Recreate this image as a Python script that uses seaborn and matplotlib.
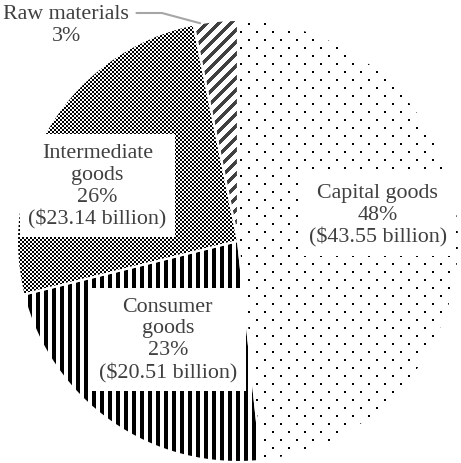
import numpy as np
import matplotlib
matplotlib.use("Agg")
import matplotlib.pyplot as plt
import seaborn as sns

sns.set_theme(style="white")
plt.rcParams["font.family"] = ["Liberation Serif", "DejaVu Serif"]

# Export values by category (billion dollars)
categories = ["Capital goods", "Consumer\ngoods", "Intermediate\ngoods", "Raw materials"]
values = [43.55, 20.51, 23.14, 2.90]
show_amount = [True, True, True, False]

# Label anchor positions in data units (pie radius = 1)
label_xy = [(0.632, 0.118), (-0.318, -0.445), (-0.636, 0.250), (-0.778, 0.980)]

W, H, DPI = 461, 464, 100
CX, CY, R = 238, 242, 221  # pie centre and radius in pixels

fig = plt.figure(figsize=(W / DPI, H / DPI), dpi=DPI)
fig.patch.set_facecolor("white")
ax = fig.add_axes([0, 0, 1, 1])

wedges, _ = ax.pie(values, startangle=90, counterclock=False, radius=1.0,
                   center=(0, 0), colors=["none"] * len(values),
                   wedgeprops=dict(edgecolor="white", linewidth=1.5))
ax.set_xlim(-CX / R, (W - CX) / R)
ax.set_ylim(-(H - CY) / R, CY / R)
ax.set_aspect("auto")
ax.patch.set_visible(False)
ax.axis("off")

# Pixel fill textures, one per wedge
yy, xx = np.mgrid[0:H, 0:W]

def texture(mask, color):
    rgba = np.zeros((H, W, 4))
    c = matplotlib.colors.to_rgb(color)
    rgba[..., :3] = np.array(c)
    rgba[..., 3] = mask.astype(float)
    return rgba

dots = (((xx % 16) < 2) & ((yy % 16) < 2)) | ((((xx + 8) % 16) < 2) & (((yy + 8) % 16) < 2))
vstripes = (xx % 8) >= 4
checker = ((xx // 2 + yy // 2) % 2) == 0
diag = ((xx + yy) % 12) < 5

fills = [texture(dots, "black"), texture(vstripes, "black"),
         texture(checker, "black"), texture(diag, "#404040")]

for w, f in zip(wedges, fills):
    im = fig.figimage(f, xo=0, yo=0, origin="upper", zorder=-1)
    im.set_clip_path(w)

total = sum(values)
text_kw = dict(fontsize=15.8, color="#404040", ha="center", va="center")
for name, v, amt, (x, y) in zip(categories, values, show_amount, label_xy):
    pct = f"{round(100 * v / total):.0f}%"
    if amt:
        label = f"{name}\n{pct}\n(${v:.2f} billion)"
        ax.text(x, y, label, bbox=dict(boxstyle="square,pad=0.4", fc="white", ec="none"),
                zorder=5, **text_kw)
    else:
        w = wedges[categories.index(name)]
        ang = np.deg2rad(w.theta1 + 0.85 * (w.theta2 - w.theta1))
        ax.annotate(f"{name}\n{pct}", xy=(np.cos(ang), np.sin(ang)), xytext=(x, y),
                    zorder=5, annotation_clip=False,
                    arrowprops=dict(arrowstyle="-", color="#a6a6a6", lw=1.5,
                                    shrinkA=3, shrinkB=0, relpos=(1.0, 0.78),
                                    connectionstyle="angle,angleA=0,angleB=-15,rad=0"),
                    **text_kw)

fig.savefig("out.png", dpi=DPI, facecolor="white")
